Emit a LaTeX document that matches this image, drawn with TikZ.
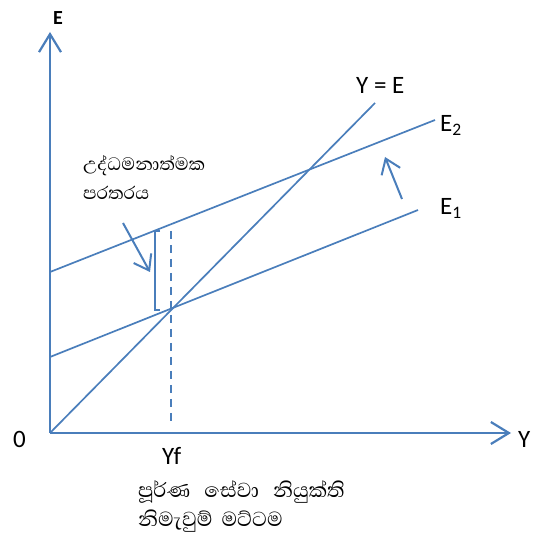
\documentclass[tikz,border=0pt]{standalone}
\usepackage{fontspec}
\setmainfont{Carlito}
\newfontfamily\sinhalafont[Script=Sinhala]{Abhaya Libre}
\usetikzlibrary{arrows.meta}
\definecolor{lineblue}{RGB}{74,126,187}

\begin{document}
\begin{tikzpicture}[x=1pt,y=1pt,
  axis/.style={lineblue,line width=2.2pt,-{Straight Barb[length=18pt,width=22pt,line width=2.2pt]}},
  curve/.style={lineblue,line width=1.7pt},
  pointer/.style={lineblue,line width=2pt,-{Straight Barb[length=14pt,width=20pt,line width=2pt]}},
  lbl/.style={inner sep=0pt,anchor=base west,font=\fontsize{25}{30}\selectfont},
  sinh/.style={inner sep=0pt,anchor=base west,align=left}]

\useasboundingbox (-50,-107) rectangle (482,433);

% === Axes ===
\coordinate (O) at (0,0);
\coordinate (ytop) at (0,401);
\coordinate (xend) at (461,0);
\draw[axis] (O) -- (ytop);
\draw[axis] (O) -- (xend);
\node[lbl,font=\fontsize{20}{24}\selectfont\bfseries] (elab) at (3,408) {E};
\node[lbl] (ylab) at (468,-15) {Y};
\node[lbl] (zero) at (-37,-15) {0};

% === Lines ===
\draw[curve] (O) -- (325,330) coordinate (ye);
\draw[curve] (0,161) coordinate (etwoa) -- (385,313) coordinate (etwob);
\draw[curve] (0,76) coordinate (eonea) -- (368,223) coordinate (eoneb);
\node[lbl] (yelab) at (306,339) {Y = E};
\node[lbl] (etwolab) at (390,301) {E\textsubscript{2}};
\node[lbl] (eonelab) at (390,218) {E\textsubscript{1}};

% shift of E upward
\draw[pointer] (352,234) -- (335,276);

% === Full employment level ===
\draw[lineblue,line width=1.7pt,dash pattern=on 8pt off 6pt] (121,202) -- (121,11);
\node[lbl] (yf) at (112,-32) {Yf};

% gap bracket
\draw[lineblue,line width=1.7pt] (110,202) -- (105,202) -- (105,123) -- (110,123);
\draw[pointer] (73,210) -- (100,161);

% === Sinhala labels ===
\node[sinh,font=\sinhalafont\fontsize{23}{29}\selectfont] (gap) at (33,233) {උද්ධමනාත්මක\\පරතරය};
\node[sinh,font=\sinhalafont\fontsize{26}{29}\selectfont] (fulllvl) at (88,-93) {පූර්ණ\hspace{9pt} සේවා\hspace{9pt} නියුක්ති\\නිමැවුම්\hspace{4pt} මට්ටම};

\end{tikzpicture}
\end{document}
